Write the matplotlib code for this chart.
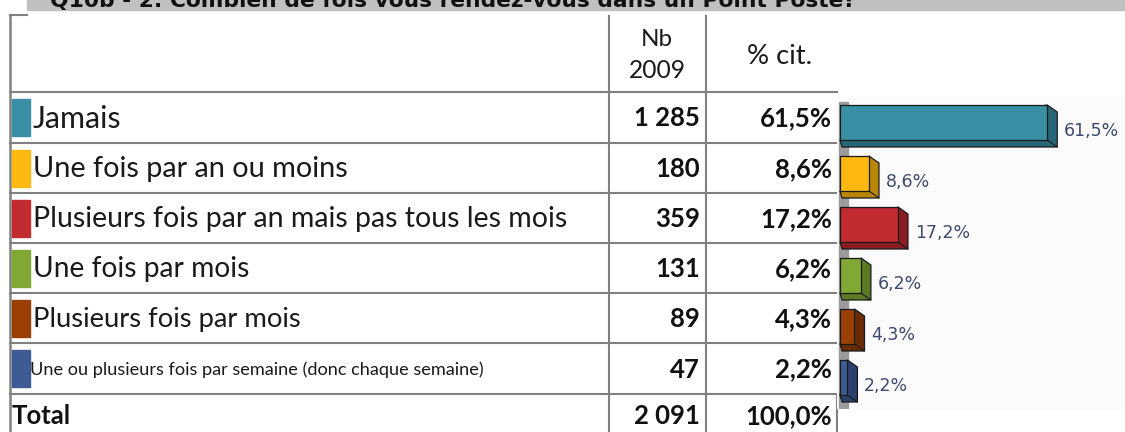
import matplotlib
matplotlib.use("Agg")
import matplotlib.pyplot as plt
from matplotlib.patches import Rectangle, Polygon

# ---------------- data ----------------
title = "Q10b - 2. Combien de fois vous rendez-vous dans un Point Poste?"
categories = [
    "Jamais",
    "Une fois par an ou moins",
    "Plusieurs fois par an mais pas tous les mois",
    "Une fois par mois",
    "Plusieurs fois par mois",
    "Une ou plusieurs fois par semaine (donc chaque semaine)",
]
counts = [1285, 180, 359, 131, 89, 47]
percents = [61.5, 8.6, 17.2, 6.2, 4.3, 2.2]
total_count = 2091
total_percent = 100.0
header_nb = "Nb\n2009"
header_pct = "% cit."
total_label = "Total"

front_colors = ["#3a8fa4", "#fdb811", "#c22b2f", "#82a834", "#9a4007", "#3f5b94"]
side_colors = ["#276676", "#b9860a", "#8a1d21", "#5c7a24", "#6a2c05", "#2b406c"]


def fr_int(v):
    return f"{v:,}".replace(",", " ")


def fr_pct(v):
    return f"{v:.1f}".replace(".", ",") + "%"


W, H = 1125, 432
fig = plt.figure(figsize=(W / 100, H / 100), dpi=100)
bg = fig.add_axes([0, 0, 1, 1])
bg.set_xlim(0, W)
bg.set_ylim(H, 0)
bg.axis("off")

FONT = ["Lato", "DejaVu Sans"]
renderer = fig.canvas.get_renderer()


def fit(x, y, s, width, ha="left", va="center", weight="normal", color="#111111",
        family=FONT, ax=None, **kw):
    ax = ax or bg
    t = ax.text(x, y, s, ha=ha, va=va, fontsize=10, fontweight=weight, color=color,
                family=family, **kw)
    w = t.get_window_extent(renderer=renderer).width
    t.set_fontsize(10 * width / w)
    return t


# title band (top clipped, as in the reference)
bg.add_patch(Rectangle((27, -5), W - 27, 15, color="#c0c0c0", zorder=0))
fit(50, 7, title, 807, va="baseline", weight="bold", family=["DejaVu Sans"], clip_on=False)

# table grid
line_c = "#808080"
row_lines = [92, 143, 193, 243, 293, 343, 394]
for yy in row_lines:
    bg.plot([10, 837], [yy, yy], color=line_c, lw=1.5, zorder=1)
bg.plot([10, 27], [15, 15], color=line_c, lw=1.5)
bg.plot([10, 10], [15, H], color=line_c, lw=1.8)
for xx in (609, 706):
    bg.plot([xx, xx], [16, H], color=line_c, lw=1.5)
bg.plot([837, 837], [395, H], color=line_c, lw=1.5)

# headers
fit(657, 40, "Nb", 32, ha="center", color="#1a1a1a")
fit(657, 71, "2009", 57, ha="center", color="#1a1a1a")
fit(780, 57, header_pct, 65, ha="center", color="#1a1a1a")

# bold number size (fitted once on the widest entry)
probe = fit(0, 0, fr_pct(total_percent), 87, weight="bold")
NUM_FS = probe.get_fontsize()
probe.remove()

# rows
label_widths = [88, 315, 533, 216, 269, 454]
for i, (cat, n, p) in enumerate(zip(categories, counts, percents)):
    top = row_lines[i]
    cy = (row_lines[i] + row_lines[i + 1]) / 2 + 1
    bg.add_patch(Rectangle((12, top + 7), 18, 37, color=front_colors[i], zorder=2))
    fit(33 if i < 5 else 30, cy, cat, label_widths[i], color="#1a1a1a")
    bg.text(700, cy, fr_int(n), ha="right", va="center", fontsize=NUM_FS,
            fontweight="bold", color="#111111", family=FONT)
    bg.text(832, cy, fr_pct(p), ha="right", va="center", fontsize=NUM_FS,
            fontweight="bold", color="#111111", family=FONT)

bg.text(12, 416, total_label, ha="left", va="center", fontsize=NUM_FS,
        fontweight="bold", color="#111111", family=FONT)
bg.text(700, 416, fr_int(total_count), ha="right", va="center", fontsize=NUM_FS,
        fontweight="bold", color="#111111", family=FONT)
bg.text(832, 416, fr_pct(total_percent), ha="right", va="center", fontsize=NUM_FS,
        fontweight="bold", color="#111111", family=FONT)

# ---------------- 3D bar chart ----------------
cx0, cy0, cx1, cy1 = 837, 97, 1125, 409
ax = fig.add_axes([cx0 / W, (H - cy1) / H, (cx1 - cx0) / W, (cy1 - cy0) / H])
ax.set_facecolor("#fbfbfb")
px_per_pct = 3.37
ax.set_xlim(-3 / px_per_pct, (cx1 - cx0 - 3) / px_per_pct)
ax.set_ylim((cy1 - 122.5) / 51, (cy0 - 122.5) / 51)
for s in ax.spines.values():
    s.set_visible(False)
ax.set_xticks([])
ax.set_yticks([])

dx = 10 / px_per_pct
dy = 7 / 51
bh = 35 / 51
ypos = list(range(len(categories)))

# grey wall on the left
ax.add_patch(Rectangle((-0.3, -0.4), 2.6, 6.0, color="#9b9b9b", zorder=0))

bars = ax.barh(ypos, percents, height=bh, color=front_colors, edgecolor="#1a1a1a",
               linewidth=0.9, zorder=3)
for i, b in enumerate(bars):
    x0 = b.get_x()
    x1 = b.get_x() + b.get_width()
    y0 = b.get_y()
    y1 = b.get_y() + b.get_height()
    side = Polygon([(x1, y0), (x1 + dx, y0 + dy), (x1 + dx, y1 + dy), (x0 + dx * 0.2, y1 + dy),
                    (x0, y1)], closed=True, facecolor=side_colors[i], edgecolor="#1a1a1a",
                   linewidth=0.9, zorder=2)
    ax.add_patch(side)
    ax.plot([x1, x1 + dx], [y1, y1 + dy], color="#1a1a1a", lw=0.8, zorder=4)
    ax.text(x1 + dx + 2.0, i + 0.17, fr_pct(percents[i]), ha="left", va="center",
            fontsize=12.5, color="#3e4a6c", family=["DejaVu Sans"], zorder=5)

fig.savefig("out.png", dpi=100)
